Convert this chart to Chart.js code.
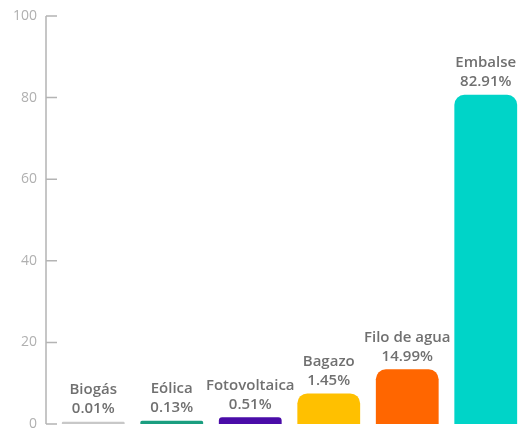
<!DOCTYPE html>
<html>
<head>
<meta charset="utf-8">
<script src="https://cdn.jsdelivr.net/npm/chart.js@4"></script>
<style>
  html, body { margin: 0; padding: 0; background: #fff; overflow: hidden; }
  canvas { display: block; }
</style>
</head>
<body>
<canvas id="mainChart" width="525" height="428"></canvas>
<script>
// Datos del gráfico
const categories = ["Biogás", "Eólica", "Fotovoltaica", "Bagazo", "Filo de agua", "Embalse"];
const barValues = [0.55, 0.8, 1.65, 7.5, 13.4, 80.7];
const shareLabels = ["0.01%", "0.13%", "0.51%", "1.45%", "14.99%", "82.91%"];
const yTicks = [0, 20, 40, 60, 80, 100];

const barColors = ["#c8c8c8", "#1a9e80", "#4a0ca8", "#ffc000", "#ff6600", "#00d4c8"];

// Eje vertical con marcas hacia la derecha
const axisPlugin = {
    id: "axisLine",
    afterDraw(chart) {
        const ctx = chart.ctx;
        const y = chart.scales.y;
        const x0 = chart.chartArea.left - 8;
        ctx.save();
        ctx.strokeStyle = "#b4b4b4";
        ctx.lineWidth = 1.5;
        ctx.beginPath();
        ctx.moveTo(x0, y.getPixelForValue(100));
        ctx.lineTo(x0, y.getPixelForValue(0));
        yTicks.forEach((t) => {
            const py = y.getPixelForValue(t);
            ctx.moveTo(x0, py);
            ctx.lineTo(x0 + 11, py);
        });
        ctx.stroke();
        ctx.restore();
    },
};

// Etiquetas sobre las barras
const labelPlugin = {
    id: "barLabels",
    afterDatasetsDraw(chart) {
        const ctx = chart.ctx;
        const meta = chart.getDatasetMeta(0);
        ctx.save();
        ctx.fillStyle = "#707070";
        ctx.font = "600 15px 'Open Sans', sans-serif";
        ctx.textAlign = "center";
        ctx.textBaseline = "middle";
        meta.data.forEach((bar, i) => {
            ctx.fillText(shareLabels[i], bar.x, bar.y - 13);
            ctx.fillText(categories[i], bar.x, bar.y - 32);
        });
        ctx.restore();
    },
};

const ctx = document.getElementById("mainChart").getContext("2d");
new Chart(ctx, {
    type: "bar",
    data: {
        labels: categories,
        datasets: [
            {
                data: barValues,
                backgroundColor: barColors,
                borderRadius: { topLeft: 10, topRight: 10 },
                borderSkipped: "bottom",
                categoryPercentage: 1,
                barPercentage: 0.8,
            },
        ],
    },
    options: {
        responsive: false,
        devicePixelRatio: 1,
        animation: false,
        layout: { padding: { top: 16, right: 0, bottom: 4, left: 0 } },
        plugins: {
            legend: { display: false },
            tooltip: { enabled: false },
        },
        scales: {
            x: { display: false },
            y: {
                min: 0,
                max: 100,
                afterFit(scale) {
                    scale.width = 54;
                    scale.paddingTop = 0;
                    scale.paddingBottom = 0;
                },
                afterBuildTicks(scale) { scale.ticks = yTicks.map((v) => ({ value: v })); },
                grid: { display: false, drawTicks: false },
                border: { display: false },
                ticks: {
                    padding: 17,
                    color: "#b0b0b0",
                    font: { size: 14, family: "'Open Sans', sans-serif" },
                },
            },
        },
    },
    plugins: [axisPlugin, labelPlugin],
});
</script>
</body>
</html>
